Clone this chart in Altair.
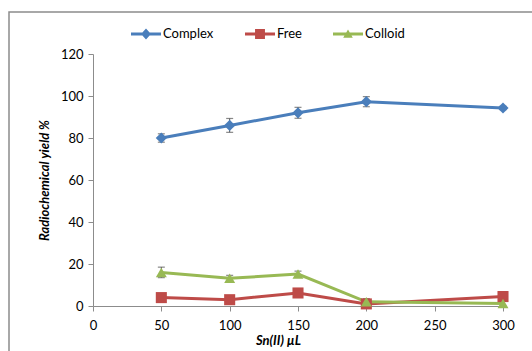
import altair as alt
import pandas as pd

# ---- data ----
sn_ul = [50, 100, 150, 200, 300]
complex_y = [80, 86, 92, 97.3, 94.3]
complex_err = [2, 3.3, 2.6, 2.4, 0.8]
free_y = [4, 3, 6.2, 1, 4.5]
free_err = [0, 0, 0, 0, 0]
colloid_y = [16, 13.2, 15.2, 2, 1.2]
colloid_err = [2.5, 1.4, 1.4, 1.5, 0]

series = ["Complex", "Free", "Colloid"]
colors = ["#4A7EBB", "#BE4B48", "#98B954"]
x_ticks = [0, 50, 100, 150, 200, 250, 300]
y_ticks = [0, 20, 40, 60, 80, 100, 120]

rows = []
for name, ys, es in [("Complex", complex_y, complex_err),
                     ("Free", free_y, free_err),
                     ("Colloid", colloid_y, colloid_err)]:
    for x, y, e in zip(sn_ul, ys, es):
        rows.append({"series": name, "x": x, "y": y, "lo": y - e, "hi": y + e, "err": e})
df = pd.DataFrame(rows)

FONT = "Lato"
color_scale = alt.Scale(domain=series, range=colors)
shape_scale = alt.Scale(domain=series, range=["diamond", "square", "triangle-up"])
size_scale = alt.Scale(domain=series, range=[125, 120, 110])

xenc = alt.X("x:Q", scale=alt.Scale(domain=[0, 300], nice=False),
             axis=alt.Axis(values=x_ticks, title="Sn(II) µL", grid=False, labelPadding=8,
                           labelFlush=False,
                           titleX=185, titleY=34, titleBaseline="middle"))
yenc = alt.Y("y:Q", scale=alt.Scale(domain=[0, 120], nice=False),
             axis=alt.Axis(values=y_ticks, title="Radiochemical yield %", grid=False,
                           labelFlush=False,
                           titleX=-49, titleY=126, titleAngle=-90,
                           titleAlign="center", titleBaseline="middle"))

base = alt.Chart(df)

frame = alt.Chart(pd.DataFrame({"a": [0]})).mark_rect(
    fill=None, stroke="#8c8c8c", strokeWidth=1.5
).encode(x=alt.value(-84), x2=alt.value(700), y=alt.value(-42), y2=alt.value(500))

lines = base.mark_line(strokeWidth=3).encode(
    x=xenc, y=yenc,
    color=alt.Color("series:N", scale=color_scale, legend=None),
    detail="series:N",
)

errs = base.transform_filter("datum.err > 0")
err_rule = errs.mark_rule(color="#555555", strokeWidth=1).encode(
    x="x:Q", y="lo:Q", y2="hi:Q")
err_lo = errs.mark_tick(color="#555555", orient="horizontal", size=7, thickness=1.2).encode(
    x="x:Q", y="lo:Q")
err_hi = errs.mark_tick(color="#555555", orient="horizontal", size=7, thickness=1.2).encode(
    x="x:Q", y="hi:Q")

points = base.mark_point(filled=True, opacity=1).encode(
    x="x:Q", y="y:Q",
    color=alt.Color("series:N", scale=color_scale, legend=None),
    shape=alt.Shape("series:N", scale=shape_scale, legend=None),
    size=alt.Size("series:N", scale=size_scale, legend=None),
)

# legend-only layer: symbols drawn as line + marker
leg_paths = [
    "M-1,-0.1H1V0.1H-1Z M0,-0.36L0.33,0L0,0.36L-0.33,0Z",
    "M-1,-0.1H1V0.1H-1Z M-0.33,-0.33H0.33V0.33H-0.33Z",
    "M-1,-0.1H1V0.1H-1Z M0,-0.3L0.32,0.25H-0.32Z",
]
leg_props = dict(title=None, orient="none", direction="horizontal",
                 legendX=38, legendY=-35, symbolSize=900,
                 labelFontSize=13, labelFont=FONT, labelColor="#000000",
                 labelOffset=2, columnPadding=31, padding=0, symbolStrokeWidth=0)
legend_layer = base.transform_filter("false").mark_point(filled=True, opacity=1).encode(
    x="x:Q", y="y:Q",
    color=alt.Color("series:N", scale=alt.Scale(domain=series, range=colors),
                    legend=alt.Legend(**leg_props)),
    shape=alt.Shape("series:N", scale=alt.Scale(domain=series, range=leg_paths),
                    legend=alt.Legend(**leg_props)),
)

chart = alt.layer(frame, lines, err_rule, err_lo, err_hi, points, legend_layer).resolve_scale(
    color="independent", shape="independent", size="independent"
).properties(
    width=410, height=252,
    autosize=alt.AutoSizeParams(type="none"),
    padding={"left": 93, "top": 54, "right": 29, "bottom": 45},
    background="white",
).configure_view(stroke=None).configure_axis(
    domainColor="#8c8c8c", tickColor="#8c8c8c", tickSize=5, domainWidth=1,
    labelFont=FONT, labelFontSize=13, labelColor="#000000",
    titleFont=FONT, titleFontSize=13, titleFontWeight="bold", titleFontStyle="italic",
    titleColor="#000000", labelPadding=5,
)

chart.save("out.html", embed_options={"renderer": "svg", "actions": False})
